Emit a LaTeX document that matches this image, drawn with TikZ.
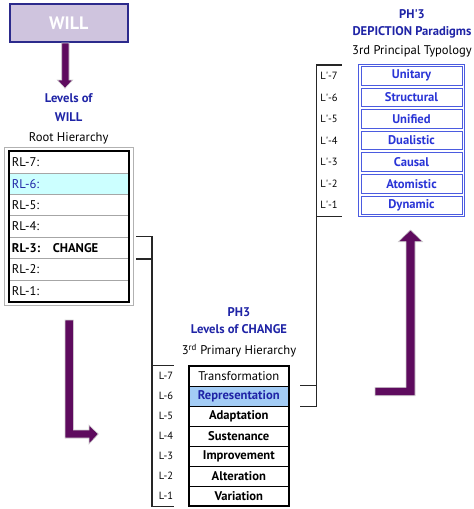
\documentclass[tikz,border=0pt]{standalone}
\usepackage{fontspec}
\setmainfont{PT Sans}
\usetikzlibrary{positioning}

\definecolor{willpurple}{HTML}{5E0B5E}
\definecolor{willfill}{HTML}{CFC4DE}
\definecolor{willedge}{HTML}{2C2A8C}
\definecolor{headblue}{HTML}{1F24A6}
\definecolor{cellblue}{HTML}{2A35D6}
\definecolor{celledge}{HTML}{4B5BE0}
\definecolor{selcyan}{HTML}{CCFFFF}
\definecolor{selblue}{HTML}{A3CCF5}

\newcommand\rowfont{\fontsize{12.6}{14}\selectfont}
\newcommand\tagfont{\fontsize{10.5}{12}\selectfont}

\tikzset{
    fatarrow/.style={fill=willpurple, draw=gray!35, line width=0.6pt},
    bracket/.style={draw=black!85, line width=1.1pt},
    headtxt/.style={text=headblue, font=\rowfont\bfseries, inner sep=0pt},
    subtxt/.style={text=black, font=\rowfont, inner sep=0pt},
    tagtxt/.style={text=black, font=\tagfont, inner sep=1pt}
}

\begin{document}
\begin{tikzpicture}[x=1pt,y=-1pt,
    rlrow/.style={draw=gray!70, line width=0.6pt, minimum width=120pt, minimum height=21.43pt,
        text width=114pt, align=left, inner sep=3pt, font=\rowfont},
    rlsel/.style={fill=selcyan, text=headblue},
    rlbold/.style={font=\rowfont\bfseries},
    lrow/.style={draw=black, line width=0.7pt, minimum width=99pt, minimum height=20pt,
        inner sep=0pt, font=\rowfont},
    lbold/.style={font=\rowfont\bfseries},
    lsel/.style={fill=selblue, text=headblue, font=\rowfont\bfseries},
    lprow/.style={draw=celledge, line width=0.8pt, minimum width=101pt, minimum height=18.6pt,
        inner sep=0pt, text=cellblue, font=\rowfont\bfseries}]

    \useasboundingbox (0,0) rectangle (474,509);

    % top box and first arrow
    \node[draw=willedge, line width=1.8pt, fill=willfill, minimum width=118pt, minimum height=38pt,
        text=white, font=\fontsize{18}{20}\selectfont\bfseries] (will) at (68.7,22.8) {WILL};
    \draw[fatarrow] (61.7,43) -- (61.7,80) -- (57.3,80) -- (65,88.3) -- (72.7,80) -- (69,80) -- (69,43) -- cycle;

    \node[headtxt] (lvl) at (68.7,98) {Levels of};
    \node[headtxt] (lvlwill) at (68.7,117) {WILL};
    \node[subtxt] (root) at (68.7,138) {Root Hierarchy};

    % root hierarchy
    \foreach \n/\lab/\opt in {7/RL-7:/{},6/RL-6:/rlsel,5/RL-5:/{},4/RL-4:/{},
            3/{RL-3:\quad CHANGE}/rlbold,2/RL-2:/{},1/RL-1:/{}} {
        \node[rlrow,\opt] (rl\n) at (69,{151.5+(7.5-\n)*21.43}) {\lab};
    }
    \draw[line width=2pt] (rl7.north west) rectangle (rl1.south east);
    \draw[gray!60, line width=0.8pt] ([shift={(-4,-4)}]rl7.north west) rectangle ([shift={(4,4)}]rl1.south east);

    % PH3
    \node[headtxt] (ph) at (239,312) {PH3};
    \node[headtxt] (lvlch) at (239,329) {Levels of CHANGE};
    \node[subtxt] (prim) at (239,351) {3\textsuperscript{rd} Primary Hierarchy};

    \foreach \n/\lab/\opt in {7/Transformation/{},6/Representation/lsel,5/Adaptation/lbold,
            4/Sustenance/lbold,3/Improvement/lbold,2/Alteration/lbold,1/Variation/lbold} {
        \node[lrow,\opt] (l\n) at (238.8,{366+(7.5-\n)*20}) {\lab};
        \node[tagtxt] (ll\n) at (166,{366+(7.5-\n)*20}) {L-\n};
    }
    \draw[line width=2pt] (l7.north west) rectangle (l1.south east);

    % PH'3
    \node[headtxt] (php) at (412,14) {PH\textquotesingle3};
    \node[headtxt] (dep) at (412,32) {DEPICTION Paradigms};
    \node[subtxt] (typ) at (412,51) {3rd Principal Typology};

    \foreach \n/\lab in {7/Unitary,6/Structural,5/Unified,4/Dualistic,3/Causal,2/Atomistic,1/Dynamic} {
        \node[lprow] (lp\n) at (411.5,{65+(7.5-\n)*21.57}) {\lab};
        \node[tagtxt] (lpl\n) at (329,{65+(7.5-\n)*21.57}) {L\textquotesingle-\n};
    }
    \draw[celledge, line width=1.4pt] ([shift={(-2,-1.5)}]lp7.north west) rectangle ([shift={(2,1.5)}]lp1.south east);

    % brackets
    \coordinate (spineA) at (152,0);
    \coordinate (spineB) at (316.7,0);
    \coordinate (tickB) at (341.7,0);
    \draw[bracket] ([xshift=7]rl3.north east) -- (spineA |- rl3.north) -- (spineA |- l1.south) -- (ll1.east |- l1.south);
    \draw[bracket] ([xshift=7]rl3.south east) -- (spineA |- rl3.south);
    \draw[bracket] (spineA |- l7.north) -- (ll7.east |- l7.north);

    \draw[bracket] ([xshift=11.7]l6.south east) -- (spineB |- l6.south) -- (spineB |- 0,65) -- (tickB |- 0,65);
    \draw[bracket] ([xshift=11.7]l6.north east) -- (spineB |- l6.north);
    \draw[bracket] (spineB |- 0,216.7) -- (tickB |- 0,216.7);

    % purple arrows
    \draw[fatarrow] (65,320) -- (65,438) -- (89,438) -- (89,444) -- (98.3,434) -- (89,425) -- (89,430) -- (73.3,430) -- (73.3,320) -- cycle;
    \draw[fatarrow] (375,387.3) -- (406,387.3) -- (406,241.7) -- (398.3,241.7) -- (410.5,230) -- (422.7,241.7) -- (415,241.7) -- (415,395.7) -- (375,395.7) -- cycle;
\end{tikzpicture}
\end{document}
